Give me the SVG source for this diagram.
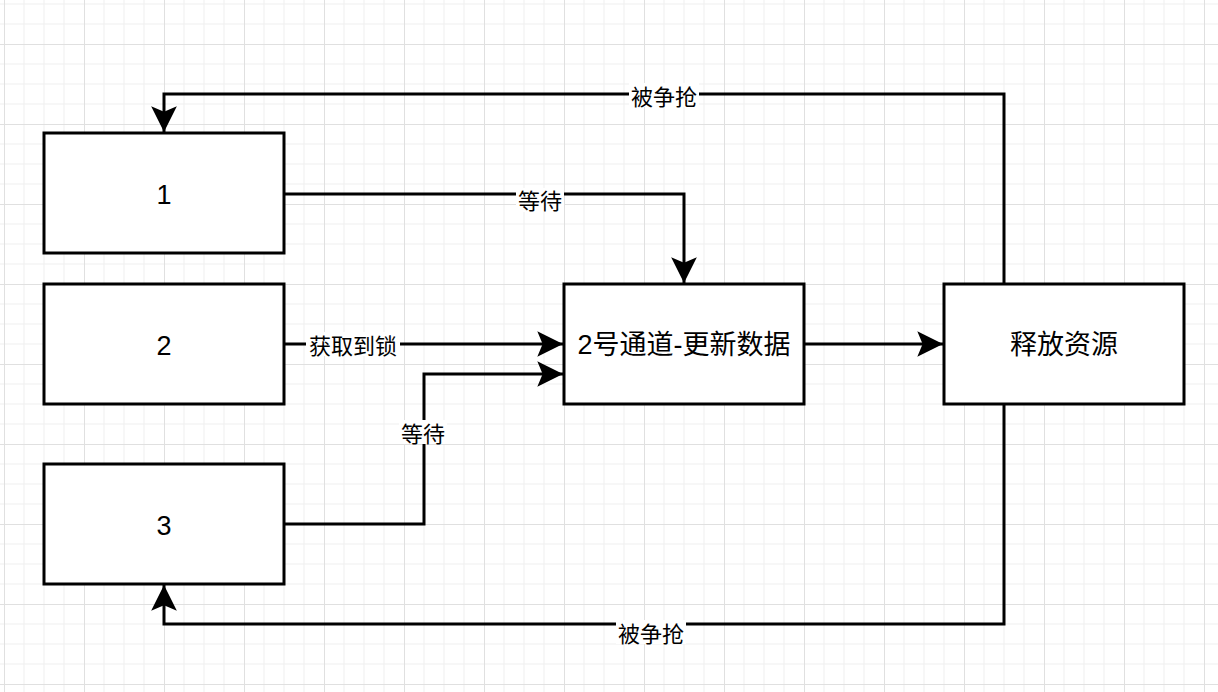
<svg xmlns="http://www.w3.org/2000/svg" width="1218" height="692" viewBox="0 0 1218 692">
<style>
.box{fill:#fff;stroke:#000;stroke-width:3}
.edge{fill:none;stroke:#000;stroke-width:3}
.t{font-family:"Liberation Sans","Noto Sans CJK SC",sans-serif;font-size:27px;fill:#000;text-anchor:middle;dominant-baseline:central}
.lbl{font-family:"Noto Sans CJK SC","Liberation Sans",sans-serif;font-size:22px;fill:#000;text-anchor:middle;dominant-baseline:central}
.lb{fill:#fff}
</style>
<defs>
<pattern id="grid" x="4" y="44" width="80" height="80" patternUnits="userSpaceOnUse">
<path d="M20 0V80M40 0V80M60 0V80M0 20H80M0 40H80M0 60H80" stroke="#efefef" stroke-width="1" fill="none"/>
<path d="M0.5 0V80M0 0.5H80" stroke="#e0e0e0" stroke-width="1" fill="none"/>
</pattern>
<marker id="arr" markerUnits="userSpaceOnUse" markerWidth="30" markerHeight="30" viewBox="-26 -13 28 26" refX="0" refY="0" orient="auto">
<path d="M0 0L-24 -12L-19 0L-24 12Z" fill="#000"/>
</marker>
</defs>
<rect width="1218" height="692" fill="#fff"/>
<rect width="1218" height="692" fill="url(#grid)"/>
<g id="connectors">
<path class="edge" d="M1004 284V94H164V132" marker-end="url(#arr)"/>
<path class="edge" d="M284 194H684V283" marker-end="url(#arr)"/>
<path class="edge" d="M284 344H563" marker-end="url(#arr)"/>
<path class="edge" d="M284 524H424V374H563" marker-end="url(#arr)"/>
<path class="edge" d="M804 344H943" marker-end="url(#arr)"/>
<path class="edge" d="M1004 404V624H164V585" marker-end="url(#arr)"/>
<rect class="lb" x="629" y="83" width="70" height="24"/>
<text class="lbl" x="664" y="95">被争抢</text>
<rect class="lb" x="516" y="188" width="48" height="24"/>
<text class="lbl" x="540" y="199">等待</text>
<rect class="lb" x="306" y="332" width="94" height="24"/>
<text class="lbl" x="353" y="344">获取到锁</text>
<rect class="lb" x="399" y="420" width="48" height="24"/>
<text class="lbl" x="423" y="432">等待</text>
<rect class="lb" x="616" y="620" width="70" height="24"/>
<text class="lbl" x="651" y="632">被争抢</text>
</g>
<g id="n1"><rect class="box" x="44" y="133" width="240" height="120"/><text class="t" x="164" y="195">1</text></g>
<g id="n2"><rect class="box" x="44" y="284" width="240" height="120"/><text class="t" x="164" y="346">2</text></g>
<g id="n3"><rect class="box" x="44" y="464" width="240" height="120"/><text class="t" x="164" y="526">3</text></g>
<g id="center"><rect class="box" x="564" y="284" width="240" height="120"/><text class="t" x="684" y="345">2号通道-更新数据</text></g>
<g id="release"><rect class="box" x="944" y="284" width="240" height="120"/><text class="t" x="1064" y="345">释放资源</text></g>
</svg>
